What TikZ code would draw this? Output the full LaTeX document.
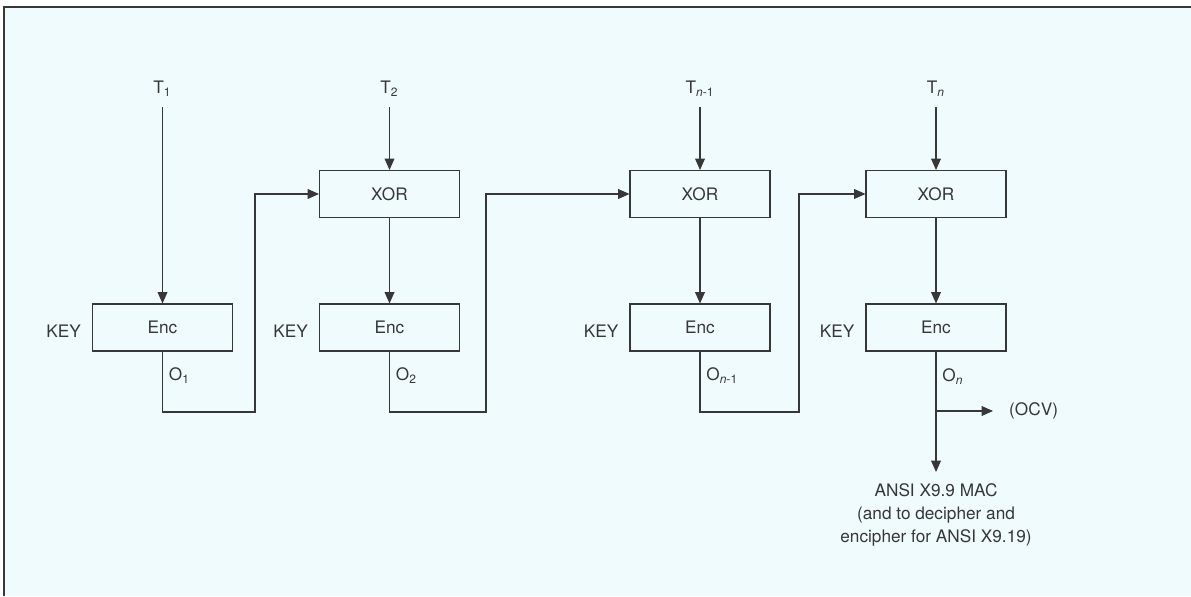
\documentclass[tikz,border=0pt]{standalone}
\usepackage{fontspec}
\setmainfont{TeX Gyre Heros}
\usepackage{tikz}
\usetikzlibrary{arrows.meta,positioning}
\usepackage{xcolor}
\definecolor{bgcyan}{RGB}{240,251,254}
\definecolor{inkgray}{RGB}{55,55,55}

\begin{document}
\begin{tikzpicture}[>={Triangle[length=6.5pt,width=5.6pt]},font={\fontsize{9.8}{13.3}\selectfont},line cap=butt,
  blk/.style={draw=inkgray,line width=0.6pt,minimum width=2.8cm,minimum height=0.94cm,inner sep=0pt,text=inkgray},
  wire/.style={draw=inkgray,line width=0.6pt},
  lbl/.style={text=inkgray}]
\useasboundingbox (0,0) rectangle (23.82,11.92);
\fill[bgcyan] (0.08,0) rectangle (23.82,11.78);
\draw[inkgray,line width=0.8pt] (0.08,0) -- (0.08,11.78) -- (23.82,11.78);
\node[blk] (enc1) at (3.25,5.37) {Enc};
\node[blk] (xor2) at (7.79,8.04) {XOR};
\node[blk] (enc2) at (7.79,5.37) {Enc};
\node[blk] (xor3) at (14.0,8.04) {XOR};
\node[blk] (enc3) at (14.0,5.37) {Enc};
\node[blk] (xorn) at (18.72,8.04) {XOR};
\node[blk] (encn) at (18.72,5.37) {Enc};
\node[lbl,above,inner sep=6pt] (t1) at (3.25,9.78) {T\textsubscript{1}};
\node[lbl,above,inner sep=6pt] (t2) at (7.79,9.78) {T\textsubscript{2}};
\node[lbl,above,inner sep=6pt] (t3) at (14.0,9.78) {T\textsubscript{\textit{n}-1}};
\node[lbl,above,inner sep=6pt] (tn) at (18.72,9.78) {T\textsubscript{\textit{n}}};
\node[lbl,left=0.1cm of enc1,yshift=-2pt] (key1) {KEY};
\node[lbl,left=0.1cm of enc2,yshift=-2pt] (key2) {KEY};
\node[lbl,left=0.1cm of enc3,yshift=-2pt] (key3) {KEY};
\node[lbl,left=0.1cm of encn,yshift=-2pt] (keyn) {KEY};
\coordinate (lp1) at (5.10,3.68);
\coordinate (lp2) at (9.72,3.68);
\coordinate (lp3) at (15.98,3.68);
\coordinate (brn) at (18.72,3.70);
\coordinate (macin) at (18.72,2.48);
\coordinate (ocvin) at (19.86,3.70);
\draw[wire,->] (t1.south) -- (enc1.north);
\draw[wire,->] (t2.south) -- (xor2.north);
\draw[wire,->] (t3.south) -- (xor3.north);
\draw[wire,->] (tn.south) -- (xorn.north);
\draw[wire,->] (xor2.south) -- (enc2.north);
\draw[wire,->] (xor3.south) -- (enc3.north);
\draw[wire,->] (xorn.south) -- (encn.north);
\draw[wire,->] (enc1.south) |- node[lbl,right,pos=0.2]{O\textsubscript{1}} (lp1) |- (xor2.west);
\draw[wire,->] (enc2.south) |- node[lbl,right,pos=0.2]{O\textsubscript{2}} (lp2) |- (xor3.west);
\draw[wire,->] (enc3.south) |- node[lbl,right,pos=0.2]{O\textsubscript{\textit{n}-1}} (lp3) |- (xorn.west);
\draw[wire,->] (encn.south) -- node[lbl,right,pos=0.21]{O\textsubscript{\textit{n}}} (macin);
\draw[wire,->] (brn) -- (ocvin);
\node[lbl,right=0.2cm of ocvin] (ocv) {(OCV)};
\node[lbl,below=0.1cm of macin,align=center] (mac) {ANSI X9.9 MAC\\(and to decipher and\\encipher for ANSI X9.19)};
\end{tikzpicture}
\end{document}
